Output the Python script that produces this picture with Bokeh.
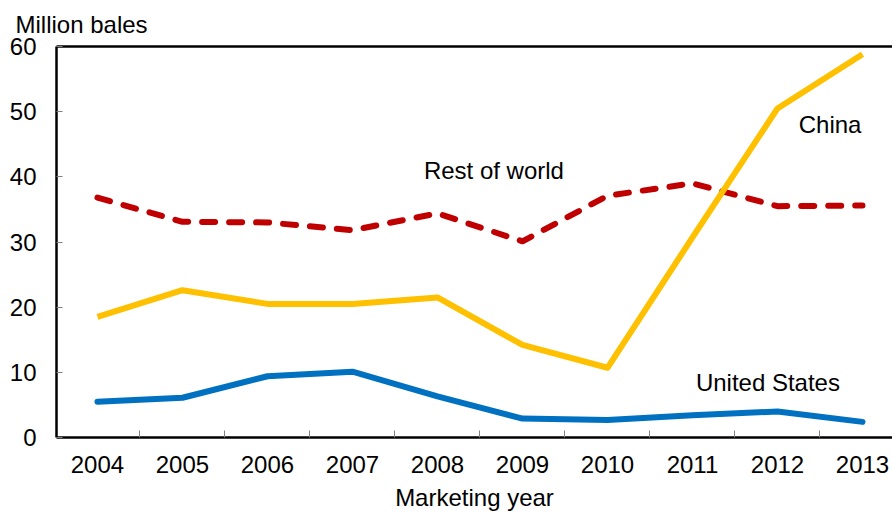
from bokeh.plotting import figure
from bokeh.models import FixedTicker, LinearAxis, Range1d
from bokeh.core.properties import value
from bokeh.embed import file_html
from bokeh.resources import INLINE

years = [2004, 2005, 2006, 2007, 2008, 2009, 2010, 2011, 2012, 2013]
china = [18.5, 22.6, 20.5, 20.5, 21.5, 14.2, 10.7, 30.7, 50.5, 58.8]
rest_of_world = [36.8, 33.1, 33.0, 31.8, 34.4, 30.1, 37.1, 39.0, 35.5, 35.6]
united_states = [5.5, 6.1, 9.4, 10.1, 6.3, 2.9, 2.7, 3.4, 4.0, 2.4]
y_ticks = [0, 10, 20, 30, 40, 50, 60]
x_minor = [2004.5, 2005.5, 2006.5, 2007.5, 2008.5, 2009.5, 2010.5, 2011.5, 2012.5]

label_texts = ["Rest of world", "China", "United States"]
label_x = [2007.84, 2012.25, 2011.04]
label_y = [41.0, 48.1, 8.4]

y_title = "Million bales"
x_title = "Marketing year"

FONT = "Liberation Sans"
FS = "24px"

p = figure(width=892, height=516, output_backend="svg", toolbar_location=None,
           x_range=Range1d(2003.518, 2013.353), y_range=Range1d(0, 60),
           min_border_left=56, min_border_right=0, min_border_top=46,
           min_border_bottom=79)
p.background_fill_color = "white"
p.border_fill_color = "white"
p.outline_line_color = None
p.grid.visible = False

p.title.text = y_title
p.title.text_font = FONT
p.title.text_font_size = FS
p.title.text_font_style = "normal"
p.title.text_color = "black"
p.title.align = "left"
p.title.offset = -41
p.title.standoff = 17

# Axes
xa = p.xaxis[0]
xa.ticker = FixedTicker(ticks=years, minor_ticks=x_minor)
xa.major_tick_line_color = None
xa.minor_tick_in = 7
xa.minor_tick_out = 0
xa.minor_tick_line_color = "#808080"
xa.minor_tick_line_width = 1
xa.axis_line_color = "black"
xa.axis_line_width = 2.5
xa.major_label_text_font = FONT
xa.major_label_text_font_size = FS
xa.major_label_text_color = "black"
xa.major_label_standoff = 12
xa.axis_label = x_title
xa.axis_label_text_font = FONT
xa.axis_label_text_font_size = FS
xa.axis_label_text_font_style = "normal"
xa.axis_label_text_color = "black"
xa.axis_label_standoff = 8
xa.formatter.use_scientific = False

ya = p.yaxis[0]
ya.ticker = FixedTicker(ticks=y_ticks)
ya.major_tick_in = 6
ya.major_tick_out = 0
ya.major_tick_line_color = "#808080"
ya.minor_tick_line_color = None
ya.axis_line_color = "black"
ya.axis_line_width = 2.5
ya.major_label_text_font = FONT
ya.major_label_text_font_size = FS
ya.major_label_text_color = "black"
ya.major_label_standoff = 20

top = LinearAxis(ticker=FixedTicker(ticks=[]), axis_line_color="black",
                 axis_line_width=2.5, major_tick_line_color=None,
                 minor_tick_line_color=None, major_label_text_font_size="0px",
                 major_label_standoff=0)
p.add_layout(top, "above")

p.line(years, rest_of_world, line_color="#C00000", line_width=6,
       line_dash="13 14", line_cap="round", line_join="round")
p.line(years, china, line_color="#FFC000", line_width=6, line_join="round")
p.line(years, united_states, line_color="#0070C0", line_width=6,
       line_join="round", line_cap="round")

p.text(x=label_x, y=label_y, text=label_texts, text_font=value(FONT),
       text_font_size=FS, text_baseline="middle", text_align="left",
       text_color="black")

open("out.html", "w").write(file_html(p, INLINE))
